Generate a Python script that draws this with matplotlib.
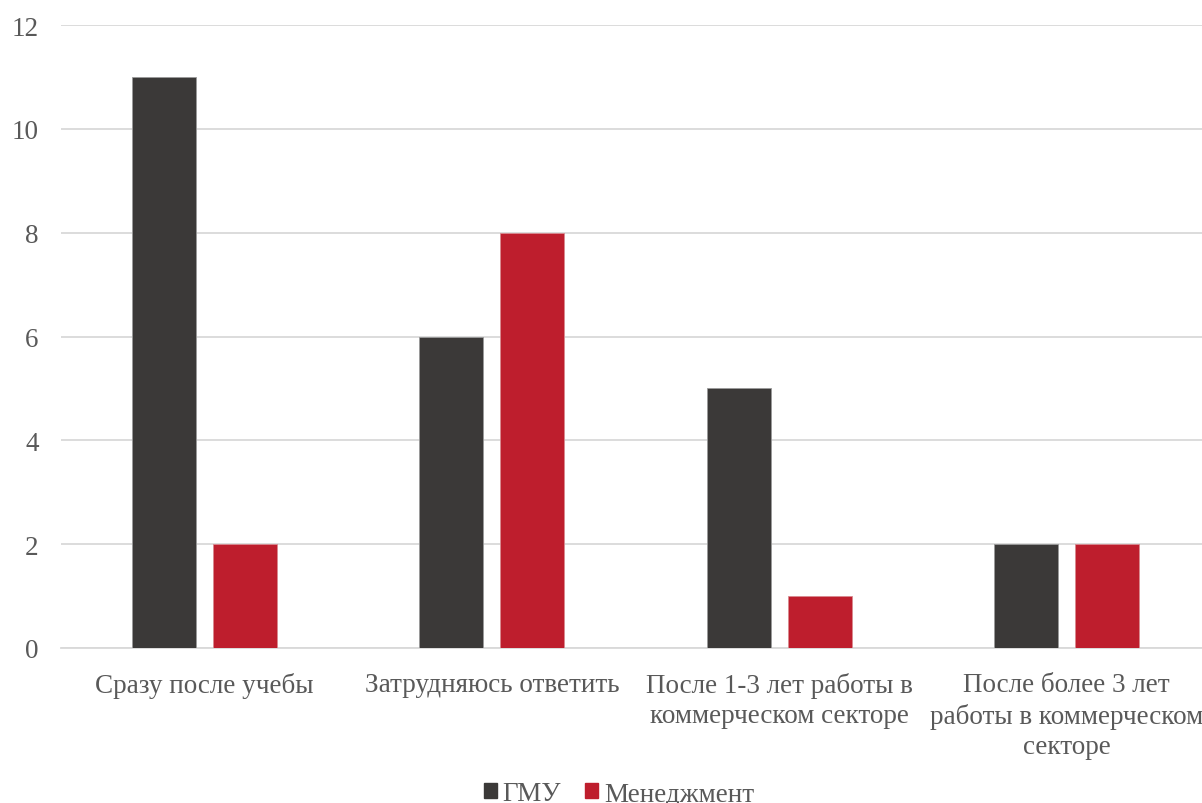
import matplotlib
matplotlib.use("Agg")
import matplotlib.pyplot as plt
import numpy as np
from matplotlib.patches import Patch

plt.rcParams['font.family'] = ['Liberation Serif', 'DejaVu Serif']

categories = [
    "Сразу после учебы",
    "Затрудняюсь ответить",
    "После 1-3 лет работы в\nкоммерческом секторе",
    "После более 3 лет\nработы в коммерческом\nсекторе",
]
series_names = ["ГМУ", "Менеджмент"]
gmu = [11, 6, 5, 2]
management = [2, 8, 1, 2]
colors = ["#3b3938", "#be1e2d"]
y_ticks = [0, 2, 4, 6, 8, 10, 12]

W, H = 1202, 804
fig = plt.figure(figsize=(W / 100, H / 100), dpi=100)
ax = fig.add_axes([61 / W, 1 - 649 / H, (1210 - 61) / W, (649 - 26) / H])

x = np.arange(len(categories))
bw = 0.223
off = 0.141
ax.bar(x - off, gmu, bw, color=colors[0], edgecolor="#9a9a9a", linewidth=0.6, zorder=3)
ax.bar(x + off, management, bw, color=colors[1], edgecolor="#d98a90", linewidth=0.6, zorder=3)

ax.set_xlim(-0.5, len(categories) - 0.5)
ax.set_ylim(0, 12)
ax.set_yticks(y_ticks)
ax.set_yticklabels([str(t) for t in y_ticks])
ax.set_xticks(x)
ax.set_xticklabels(categories, linespacing=1.3)
ax.yaxis.grid(True, color="#d9d9d9", linewidth=1.3, zorder=0)
ax.set_axisbelow(True)
for s in ["top", "right", "left"]:
    ax.spines[s].set_visible(False)
ax.spines["bottom"].set_color("#d9d9d9")
ax.spines["bottom"].set_linewidth(1.3)
ax.tick_params(axis="both", length=0, labelsize=19.5, labelcolor="#595959")
ax.tick_params(axis="y", pad=16)
ax.tick_params(axis="x", pad=17)

handles = [Patch(facecolor=c, edgecolor=c) for c in colors]
fig.legend(handles, series_names, loc="center", bbox_to_anchor=(619 / W, 1 - 795 / H),
           ncol=2, frameon=False, fontsize=19.5, handlelength=0.48, handleheight=0.48,
           handletextpad=0.2, columnspacing=0.9, labelcolor="#595959")

fig.savefig("out.png", dpi=100)
